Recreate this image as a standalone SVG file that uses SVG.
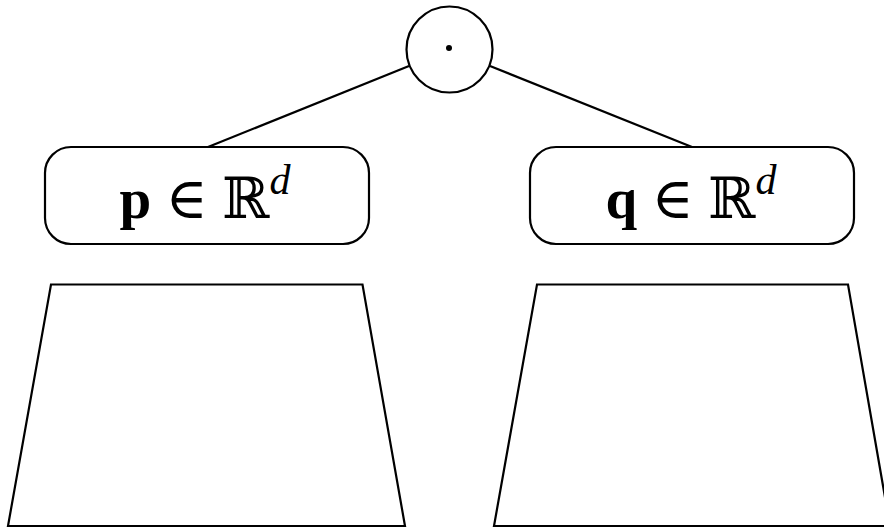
<svg xmlns="http://www.w3.org/2000/svg" width="884" height="527" viewBox="0 0 884 527">
<style>
.s{fill:#fff;stroke:#000;stroke-width:2.2}
.c{fill:none;stroke:#000;stroke-width:2.2}
.t{font-family:"Liberation Serif","DejaVu Serif",serif;font-size:57px;fill:#000}
.b{font-weight:bold}
.i{font-style:italic;font-size:42px}
</style>
<rect width="884" height="527" fill="#fff"/>
<g id="connectors">
<line class="c" x1="409" y1="66" x2="208" y2="147"/>
<line class="c" x1="490" y1="66" x2="692" y2="147"/>
</g>
<g id="dot-node">
<circle class="s" cx="449.5" cy="49.5" r="43"/>
<circle cx="449" cy="48" r="3" fill="#000"/>
</g>
<g id="p-node">
<rect class="s" x="45" y="147" width="324" height="97" rx="26"/>
<text class="t" x="205" y="218" text-anchor="middle"><tspan class="b">p</tspan> ∈ ℝ<tspan class="i" dy="-24">d</tspan></text>
</g>
<g id="q-node">
<rect class="s" x="530" y="147" width="324" height="97" rx="26"/>
<text class="t" x="691" y="218" text-anchor="middle"><tspan class="b">q</tspan> ∈ ℝ<tspan class="i" dy="-24">d</tspan></text>
</g>
<g id="left-encoder">
<polygon class="s" points="51,284.5 362.5,284.5 405,526 8,526"/>
</g>
<g id="right-encoder">
<polygon class="s" points="537,284.5 848,284.5 890,526 494,526"/>
</g>
</svg>
